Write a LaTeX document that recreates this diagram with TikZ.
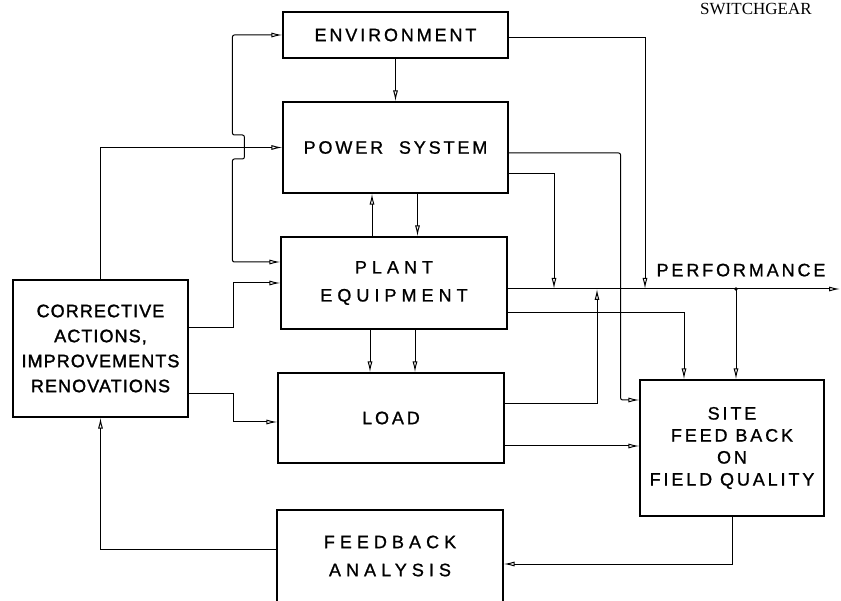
\documentclass[tikz,border=0pt]{standalone}
\usepackage{fontspec}
\setmainfont{Liberation Serif}
\newfontfamily\lspA[LetterSpace=6, FakeBold=1.6]{Liberation Sans}
\newfontfamily\lspB[LetterSpace=16, FakeBold=1]{Liberation Sans}
\newfontfamily\lspC[LetterSpace=28, FakeBold=1]{Liberation Sans}
\usetikzlibrary{arrows.meta}
\tikzset{
  blk/.style ={draw, line width=1.2pt, inner sep=0pt, align=center},
  txA/.style ={font=\lspA\fontsize{18}{25}\selectfont},
  txB/.style ={font=\lspB\fontsize{18}{22}\selectfont},
  txC/.style ={font=\lspC\fontsize{18}{28}\selectfont},
  hdr/.style ={font=\fontsize{17}{20}\selectfont},
  lnk/.style ={line width=1pt},
  arr/.style ={lnk, -{Latex[open, length=11pt, width=5pt]}},
  arr2/.style={lnk, {Latex[open, length=11pt, width=5pt]}-{Latex[open, length=11pt, width=5pt]}},
}

\begin{document}
\begin{tikzpicture}[x=1pt, y=-1pt]
  \useasboundingbox (0,0) rectangle (841,601);
  % running head
  \node[hdr, anchor=base west, inner sep=0pt] (head) at (700,15) {SWITCHGEAR};
  % blocks
  \node[blk, txB, minimum width=225pt, minimum height=46pt] (env) at (395.5,35) {ENVIRONMENT};
  \node[blk, txB, minimum width=225pt, minimum height=91pt] (pow) at (395.5,147.5) {POWER\ \ SYSTEM};
  \node[blk, txC, minimum width=226pt, minimum height=92pt] (plant) at (394,283) {PLANT\\EQUIPMENT};
  \node[blk, txB, minimum width=226pt, minimum height=90pt] (load) at (391,418) {LOAD};
  \node[blk, txC, minimum width=226pt, minimum height=92pt] (fb) at (390,556) {FEEDBACK\\ANALYSIS};
  \node[blk, txA, minimum width=175pt, minimum height=137pt] (corr) at (100.5,348.5)
    {CORRECTIVE\\ACTIONS,\\IMPROVEMENTS\\RENOVATIONS};
  \node[blk, txB, minimum width=184pt, minimum height=136pt] (site) at (732,448)
    {SITE\\FEED BACK\\ON\\FIELD QUALITY};
  % performance line and its junctions
  \coordinate (j1) at (554,289);
  \coordinate (j2) at (597,289);
  \coordinate (j3) at (645,289);
  \coordinate (j4) at (736,289);
  \coordinate (out) at (840,289);
  \node[txB, anchor=south] (perf) at (741,280) {PERFORMANCE};
  \draw[arr] (plant.east |- out) -- (out);
  \fill (j4) circle (1.8pt);
  % top to bottom through the blocks
  \draw[arr] (env) -- (pow);
  \draw[arr] ([xshift=-22pt]plant.north) -- ([xshift=-22pt]plant.north |- pow.south);
  \draw[arr] ([xshift=22pt]pow.south) -- ([xshift=22pt]pow.south |- plant.north);
  \draw[arr] ([xshift=-24pt]plant.south) -- ([xshift=-24pt]plant.south |- load.north);
  \draw[arr] ([xshift=21pt]plant.south) -- ([xshift=21pt]plant.south |- load.north);
  % left side: corrective actions
  \draw[arr] (corr.north) |- (pow.west);
  \draw[arr2, rounded corners=2pt] (env.west) -- ++(-50,0) -- ++(0,100)
    -- ++(12,0) -- ++(0,24) -- ++(-12,0) |- ([yshift=21pt]plant.west);
  \draw[arr] ([yshift=21pt]corr.east) -- ++(45,0) |- (plant.west);
  \draw[arr] ([yshift=-45pt]corr.east) -- ++(45,0) |- ([yshift=-4pt]load.west);
  \draw[arr] ([yshift=7pt]fb.west) -| (corr.south);
  % right side: performance and site feed back
  \draw[arr] ([yshift=-3pt]env.east) -| (j3);
  \draw[arr] ([yshift=-26pt]pow.east) -| (j1);
  \draw[arr, rounded corners=2pt] ([yshift=-5.5pt]pow.east) -- ++(112,0) |- ([yshift=48pt]site.west);
  \draw[arr] ([yshift=14pt]load.east) -| (j2);
  \draw[arr] ([yshift=-30pt]plant.east) -| ([xshift=-48pt]site.north);
  \draw[arr] (j4) -- (j4 |- site.north);
  \draw[arr] ([yshift=-28pt]load.east) -- ([yshift=2pt]site.west);
  \draw[arr] (site.south) |- ([yshift=-8pt]fb.east);
\end{tikzpicture}
\end{document}
